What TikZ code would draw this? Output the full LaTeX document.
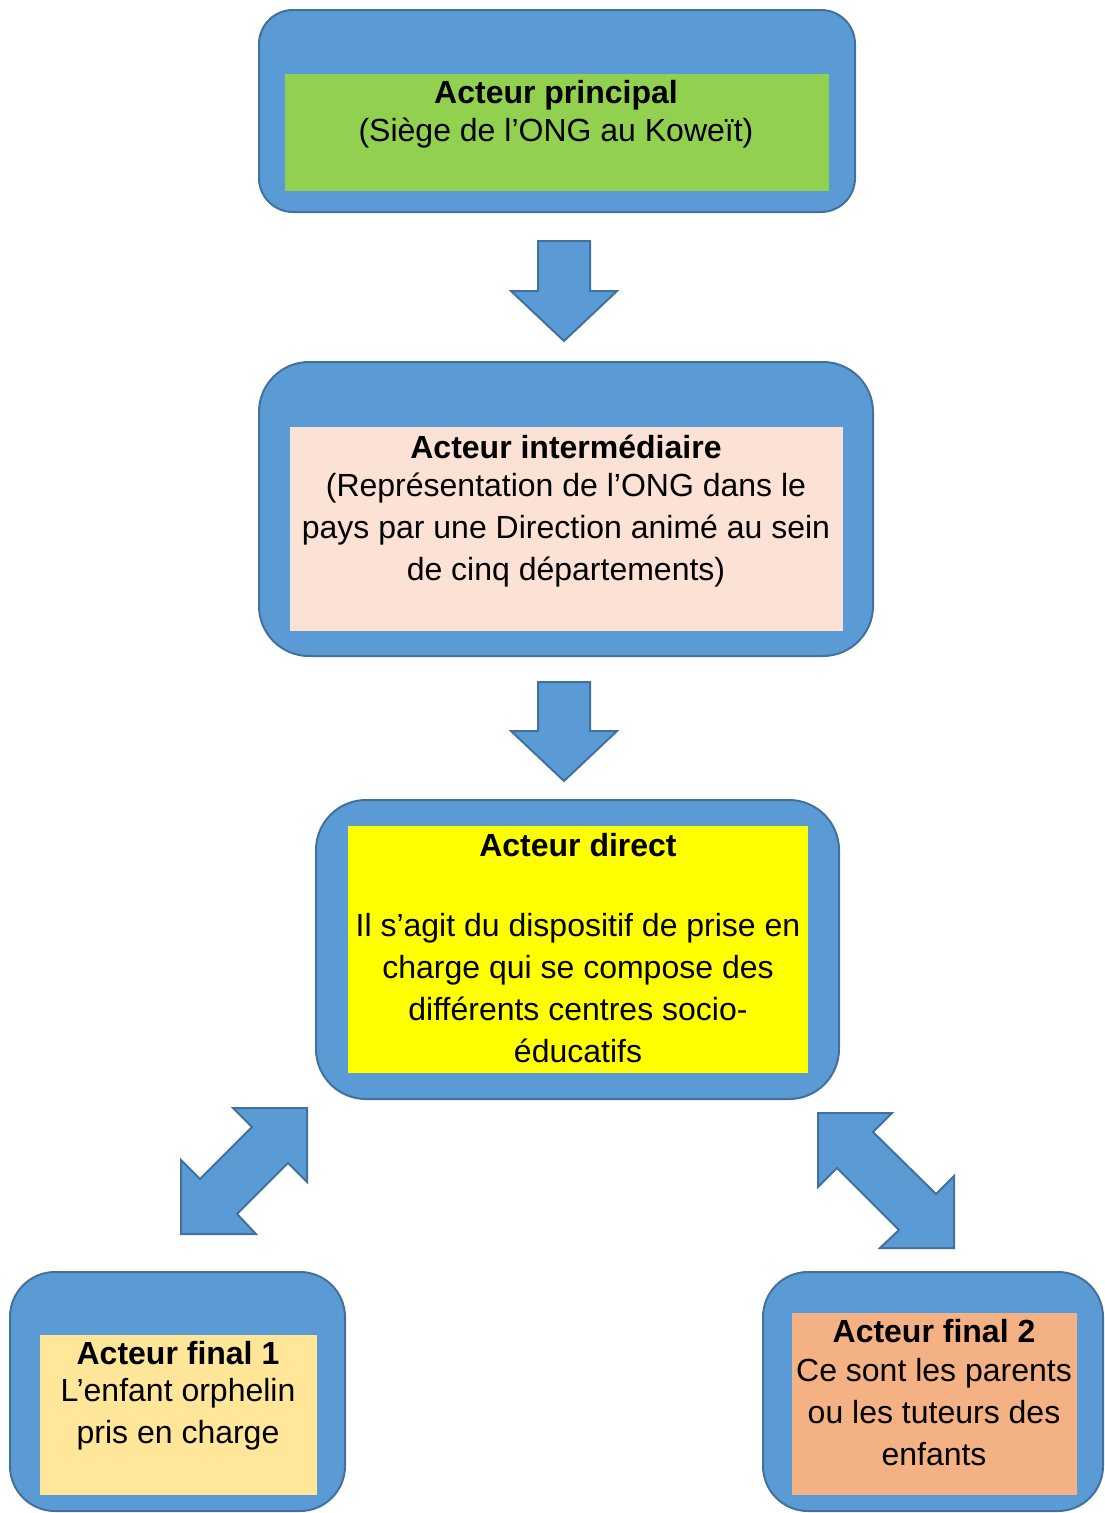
\documentclass[tikz,border=0pt]{standalone}
\usepackage{fontspec}
\setmainfont{Liberation Sans}
\definecolor{bfill}{HTML}{5B9BD5}
\definecolor{bline}{HTML}{41719C}
\definecolor{cgreen}{HTML}{92D050}
\definecolor{cpeach}{HTML}{FBE2D5}
\definecolor{cyellow}{HTML}{FFFF00}
\definecolor{cgold}{HTML}{FFE699}
\definecolor{corange}{HTML}{F4B183}
\begin{document}
\begin{tikzpicture}[x=1pt,y=-1pt,
  outerbox/.style={draw=bline, fill=bfill, line width=2pt, inner sep=0pt, rounded corners=#1},
  innerbox/.style={fill=#1, draw=none, inner sep=0pt},
  boxtext/.style={align=center, inner sep=0pt, anchor=base, font=\fontsize{32}{42}\selectfont},
  blockarrow/.style={draw=bline, fill=bfill, line width=2pt, line join=miter}]
\useasboundingbox (0,0) rectangle (1105,1513);
\clip (0,0) rectangle (1105,1513);

% Acteur principal
\node[outerbox=34pt, minimum width=596pt, minimum height=202pt] (o1) at (557,111) {};
\node[innerbox=cgreen, minimum width=544pt, minimum height=117pt] (i1) at (557,132.5) {};
\node[boxtext] (t1) at (556,141) {\textbf{Acteur principal}\\[-4pt](Siège de l’ONG au Koweït)};

% Acteur intermediaire
\node[outerbox=50pt, minimum width=614pt, minimum height=294pt] (o2) at (566,509) {};
\node[innerbox=cpeach, minimum width=553pt, minimum height=204pt] (i2) at (566.5,529) {};
\node[boxtext] (t2) at (566,580) {\textbf{Acteur intermédiaire}\\[-4pt](Représentation de l’ONG dans le\\pays par une Direction animé au sein\\de cinq départements)};

% Acteur direct
\node[outerbox=50pt, minimum width=523pt, minimum height=299pt] (o3) at (577.5,949.5) {};
\node[innerbox=cyellow, minimum width=460pt, minimum height=247pt] (i3) at (578,949.5) {};
\node[boxtext] (t3) at (578,1062) {\textbf{Acteur direct}\\[38pt]Il s’agit du dispositif de prise en\\charge qui se compose des\\différents centres socio-\\éducatifs};

% Acteur final 1
\node[outerbox=45pt, minimum width=335pt, minimum height=239pt] (o4) at (177.5,1391.5) {};
\node[innerbox=cgold, minimum width=277pt, minimum height=160pt] (i4) at (178.5,1415) {};
\node[boxtext] (t4) at (178,1443) {\textbf{Acteur final 1}\\[-5pt]L’enfant orphelin\\pris en charge};

% Acteur final 2
\node[outerbox=45pt, minimum width=340pt, minimum height=239pt] (o5) at (933,1391.5) {};
\node[innerbox=corange, minimum width=285pt, minimum height=182pt] (i5) at (934.5,1404) {};
\node[boxtext] (t5) at (934,1465) {\textbf{Acteur final 2}\\[-3pt]Ce sont les parents\\ou les tuteurs des\\enfants};

% down block arrows
\draw[blockarrow] (538,241) -- (590,241) -- (590,291) -- (617,291) -- (564,341) -- (511,291) -- (538,291) -- cycle;
\draw[blockarrow] (538,682) -- (590,682) -- (590,731) -- (617,731) -- (564,781) -- (511,731) -- (538,731) -- cycle;

% double block arrows
\draw[blockarrow] (233,1108) -- (307,1108) -- (307,1182) -- (288,1163) -- (237,1214) -- (256,1234) -- (181,1234) -- (181,1160) -- (200,1179) -- (252,1127) -- cycle;
\draw[blockarrow] (818,1113) -- (892,1113) -- (873,1132) -- (936,1194) -- (954,1176) -- (954,1248) -- (880,1248) -- (899,1230) -- (837,1168) -- (818,1187) -- cycle;
\end{tikzpicture}
\end{document}
